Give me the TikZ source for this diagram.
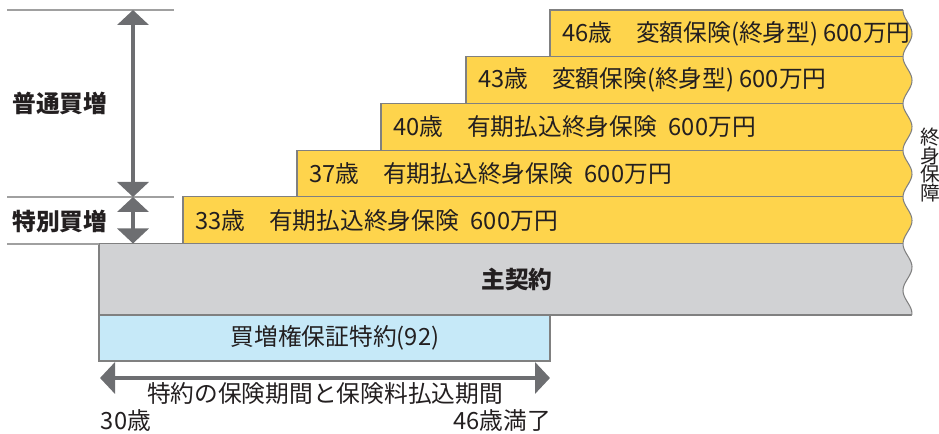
\documentclass[tikz,border=0pt]{standalone}
\usepackage{fontspec}
\setmainfont{Noto Sans CJK JP}
\usepackage{xcolor}
\usepackage{tikz}
\usetikzlibrary{arrows.meta, positioning}
\definecolor{baryellow}{RGB}{254,212,76}
\definecolor{maingray}{RGB}{209,210,212}
\definecolor{riderblue}{RGB}{198,233,248}
\definecolor{edgegray}{RGB}{128,128,128}
\definecolor{guidegray}{RGB}{160,160,160}
\definecolor{arrowgray}{RGB}{109,110,113}
\definecolor{inkblack}{RGB}{35,31,32}

\begin{document}
\begin{tikzpicture}[x=0.2mm, y=-0.2mm,
                bar/.style={draw=edgegray, line width=0.6pt},
                bartext/.style={anchor=west, inner sep=0pt, text=inkblack, font=\fontsize{13.5}{16}\selectfont},
                label/.style={inner sep=0pt, text=inkblack, font=\fontsize{13.5}{16}\selectfont},
                guide/.style={draw=guidegray, line width=0.6pt},
                dimarrow/.style={draw=arrowgray, line width=0.8mm, {Triangle[width=6.2mm,length=3mm]}-{Triangle[width=6.2mm,length=3mm]}}]
                \useasboundingbox (0,0) rectangle (939,434);

                % contracts
                \filldraw[bar, fill=riderblue] (99,315) rectangle (550,361);
                \filldraw[bar, fill=maingray] (99,243.5) rectangle (915,315);
                \filldraw[bar, fill=baryellow] (183,196.8) rectangle (915,243.5);
                \filldraw[bar, fill=baryellow] (297,150.1) rectangle (915,196.8);
                \filldraw[bar, fill=baryellow] (381,103.4) rectangle (915,150.1);
                \filldraw[bar, fill=baryellow] (466,56.7) rectangle (915,103.4);
                \filldraw[bar, fill=baryellow] (550,10) rectangle (915,56.7);

                % wavy cut on the right
                \fill[white] (918,4) -- (903,4)
                    -- plot[domain=10:315, samples=140] ({907.5-4.5*cos(7.709*(\x-57))}, \x)
                    -- (912,320) -- (918,320) -- cycle;
                \draw[edgegray, line width=0.6pt] plot[domain=10:315, samples=140] ({907.5-4.5*cos(7.709*(\x-57))}, \x);

                \node[bartext] (b46) at (562,33.4) {46歳　変額保険(終身型) 600万円};
                \node[bartext] (b43) at (478,80) {43歳　変額保険(終身型) 600万円};
                \node[bartext] (b40) at (393,126.8) {40歳　有期払込終身保険\hspace{0.5em}600万円};
                \node[bartext] (b37) at (309,173.5) {37歳　有期払込終身保険\hspace{0.5em}600万円};
                \node[bartext] (b33) at (195,220.2) {33歳　有期払込終身保険\hspace{0.5em}600万円};
                \node[label, font=\fontsize{13.5}{16}\selectfont\bfseries] (main) at (517,279) {主契約};
                \node[label] (rider) at (335,338) {買増権保証特約(92)};

                \node[label, align=center, font=\fontsize{11.2}{10.6}\selectfont] (shogai) at (930,165) {終\\身\\保\\障};

                % left side
                \draw[guide] (7,10) -- (174,10);
                \draw[guide] (7,197) -- (174,197);
                \draw[guide] (7,244) -- (99,244);
                \coordinate (ftop) at (133,10);
                \coordinate (fmid) at (133,197);
                \coordinate (fbot) at (133,243.5);
                \draw[dimarrow] (ftop) -- (fmid);
                \draw[dimarrow] (fmid) -- (fbot);
                \node[label, font=\fontsize{13.5}{16}\selectfont\bfseries] (futsu) at (60,103) {普通買増};
                \node[label, font=\fontsize{13.5}{16}\selectfont\bfseries] (tokubetsu) at (60,221) {特別買増};

                % period
                \coordinate (p30) at (100,378);
                \coordinate (p46) at (550,378);
                \draw[dimarrow] (p30) -- (p46);
                \node[label] (period) at (325,394) {特約の保険期間と保険料払込期間};
                \node[label] (age30) at (126,421) {30歳};
                \node[label] (age46) at (502,421) {46歳満了};
            \end{tikzpicture}
\end{document}
